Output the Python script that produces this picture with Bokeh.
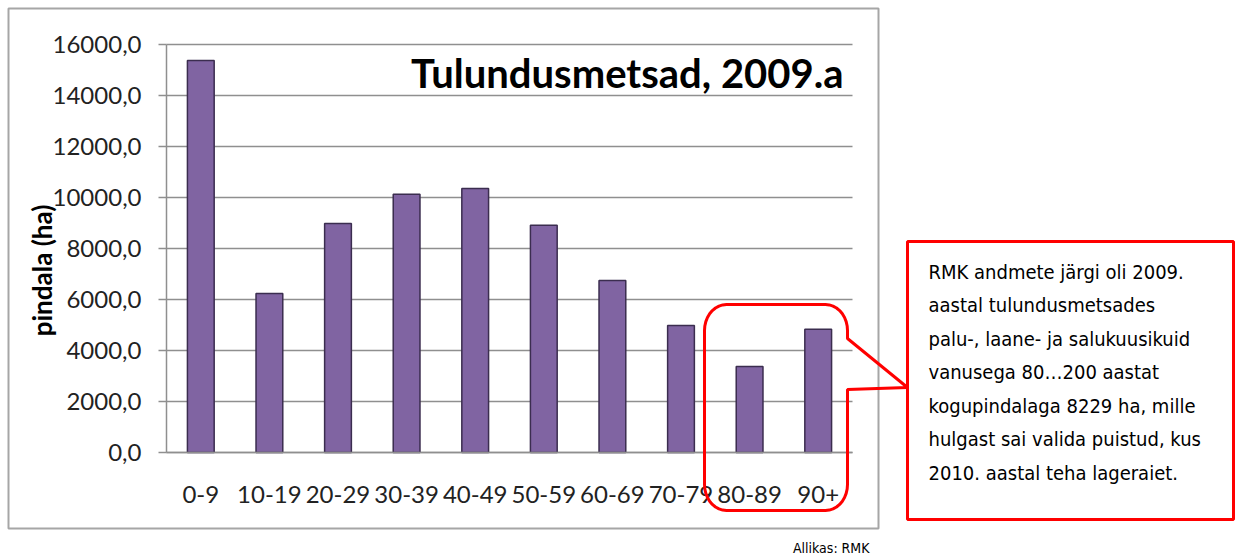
import numpy as np
from bokeh.plotting import figure
from bokeh.models import (Range1d, FixedTicker, Label, PolyAnnotation, ColumnDataSource,
                          LinearAxis, Grid)
from bokeh.embed import file_html
from bokeh.resources import INLINE

# ---- data ----
categories = ["0-9", "10-19", "20-29", "30-39", "40-49", "50-59", "60-69", "70-79", "80-89", "90+"]
areas = [15370, 6240, 8980, 10130, 10350, 8910, 6750, 4980, 3370, 4830]
y_ticks = [0, 2000, 4000, 6000, 8000, 10000, 12000, 14000, 16000]
y_tick_labels = ["0,0", "2000,0", "4000,0", "6000,0", "8000,0", "10000,0", "12000,0", "14000,0", "16000,0"]
title_text = "Tulundusmetsad, 2009.a"
y_label = "pindala (ha)"
note_lines = [
    "RMK andmete järgi oli 2009.",
    "aastal tulundusmetsades",
    "palu-, laane- ja salukuusikuid",
    "vanusega 80…200 aastat",
    "kogupindalaga 8229 ha, mille",
    "hulgast sai valida puistud, kus",
    "2010. aastal teha lageraiet.",
]
source_text = "Allikas: RMK"

# ---- layout (canvas pixels, y downwards) ----
W, H = 1236, 558
PL, PR, PT, PB = 166, 852, 44, 452          # plot area in canvas pixels
YMAX = 16000
NCAT = len(categories)
FONT = "Lato"
NARROW = "DejaVu Sans Condensed"
GRAY = "#8f8f8f"

# data ranges extended so that the plot area sits at PL..PR / PT..PB inside a full-canvas frame
sx = (PR - PL) / NCAT
sy = (PB - PT) / YMAX
x_range = Range1d(-PL / sx, NCAT + (W - PR) / sx)
y_range = Range1d(-(H - PB) / sy, YMAX + PT / sy)

def dx(px):
    return [(v - PL) / sx for v in px]

def dy(py):
    return [(PB - v) / sy for v in py]

p = figure(width=W, height=H, x_range=x_range, y_range=y_range,
           output_backend="svg", toolbar_location=None,
           x_axis_location=None, y_axis_location=None,
           min_border_left=0, min_border_right=0, min_border_top=0, min_border_bottom=0)
p.extra_x_ranges = {"px": Range1d(0, W)}
p.extra_y_ranges = {"py": Range1d(H, 0)}
p.outline_line_color = None
p.background_fill_color = "white"
p.border_fill_color = "white"
p.xgrid.visible = False
p.ygrid.visible = False

cat_pos = [i + 0.5 for i in range(NCAT)]

# grid lines
if "cross_bounds" in Grid.properties():
    grid = Grid(dimension=1, ticker=FixedTicker(ticks=y_ticks), bounds=(0, YMAX),
                cross_bounds=(0, NCAT), grid_line_color=GRAY, grid_line_width=1.5)
    p.add_layout(grid)
else:
    p.segment(x0=[0] * len(y_ticks), x1=[NCAT] * len(y_ticks), y0=y_ticks, y1=y_ticks,
              line_color=GRAY, line_width=1.5)

src = ColumnDataSource(dict(x=cat_pos, cat=categories, area=areas))
p.vbar(x="x", top="area", width=0.39, source=src,
       fill_color="#8064A2", line_color="#3b2d4f", line_width=1.5)

# y axis
yax = LinearAxis(fixed_location=0, bounds=(0, YMAX), ticker=FixedTicker(ticks=y_ticks))
yax.major_label_overrides = dict(zip(y_ticks, y_tick_labels))
yax.major_label_text_font = FONT
yax.major_label_text_font_size = "24px"
yax.major_label_text_color = "#222222"
yax.major_tick_out = 8
yax.major_tick_in = 0
yax.minor_tick_line_color = None
yax.major_tick_line_color = GRAY
yax.major_tick_line_width = 1.5
yax.axis_line_color = GRAY
yax.axis_line_width = 1.5
yax.major_label_standoff = 17
p.add_layout(yax, "left")

# x axis
xax = LinearAxis(fixed_location=0, bounds=(0, NCAT), ticker=FixedTicker(ticks=cat_pos))
xax.major_label_overrides = dict(zip(cat_pos, categories))
xax.major_label_text_font = FONT
xax.major_label_text_font_size = "24px"
xax.major_label_text_color = "#222222"
xax.major_tick_line_color = None
xax.major_tick_out = 0
xax.major_tick_in = 0
xax.minor_tick_line_color = None
xax.axis_line_color = GRAY
xax.axis_line_width = 1.5
xax.major_label_standoff = 33
p.add_layout(xax, "below")

rng = dict(x_range_name="px", y_range_name="py")

# chart border
p.add_layout(PolyAnnotation(xs=dx([8, 878, 878, 8]), ys=dy([8, 8, 528, 528]),
                            fill_color=None, fill_alpha=0,
                            line_color="#a6a6a6", line_alpha=1.0, line_width=2))

# title
p.add_layout(Label(x=843, y=72, text=title_text, text_font=FONT, text_font_style="bold",
                   text_font_size="40px", text_color="black", text_align="right",
                   text_baseline="middle", **rng))

# y axis label
p.add_layout(Label(x=41, y=270, text=y_label, angle=np.pi / 2, text_font=FONT,
                   text_font_style="bold", text_font_size="26px", text_color="black",
                   text_align="center", text_baseline="middle", **rng))

# callout rounded rectangle with pointer
L, R, T, B, rx, ry = 704, 847, 304, 510, 22, 26
n = 10
def arc(cx, cy, a0, a1):
    t = np.linspace(a0, a1, n)
    return list(cx + rx * np.cos(t)), list(cy - ry * np.sin(t))
xs, ys = [], []
ax_, ay_ = arc(R - rx, T + ry, np.pi / 2, 0); xs += ax_; ys += ay_
xs += [R, 907, R]; ys += [338, 387, 389]
for (cx, cy, a0, a1) in [(R - rx, B - ry, 0, -np.pi / 2), (L + rx, B - ry, -np.pi / 2, -np.pi),
                         (L + rx, T + ry, np.pi, np.pi / 2)]:
    ax_, ay_ = arc(cx, cy, a0, a1); xs += ax_; ys += ay_
p.add_layout(PolyAnnotation(xs=dx(xs), ys=dy(ys), fill_color=None, fill_alpha=0,
                            line_color="#ff0000", line_alpha=1.0, line_width=3))

# note box
p.add_layout(PolyAnnotation(xs=dx([907, 1233, 1233, 907]), ys=dy([241, 241, 519, 519]),
                            fill_color="white", fill_alpha=1.0, line_color="#ff0000",
                            line_alpha=1.0, line_width=3))
for i, line in enumerate(note_lines):
    p.add_layout(Label(x=928, y=271 + i * 33.5, text=line, text_font=NARROW,
                       text_font_size="20px", text_color="black", text_align="left",
                       text_baseline="middle", **rng))

# source
p.add_layout(Label(x=869, y=547, text=source_text, text_font=NARROW,
                   text_font_size="14px", text_color="black", text_align="right",
                   text_baseline="middle", **rng))

open("out.html", "w").write(file_html(p, INLINE))
